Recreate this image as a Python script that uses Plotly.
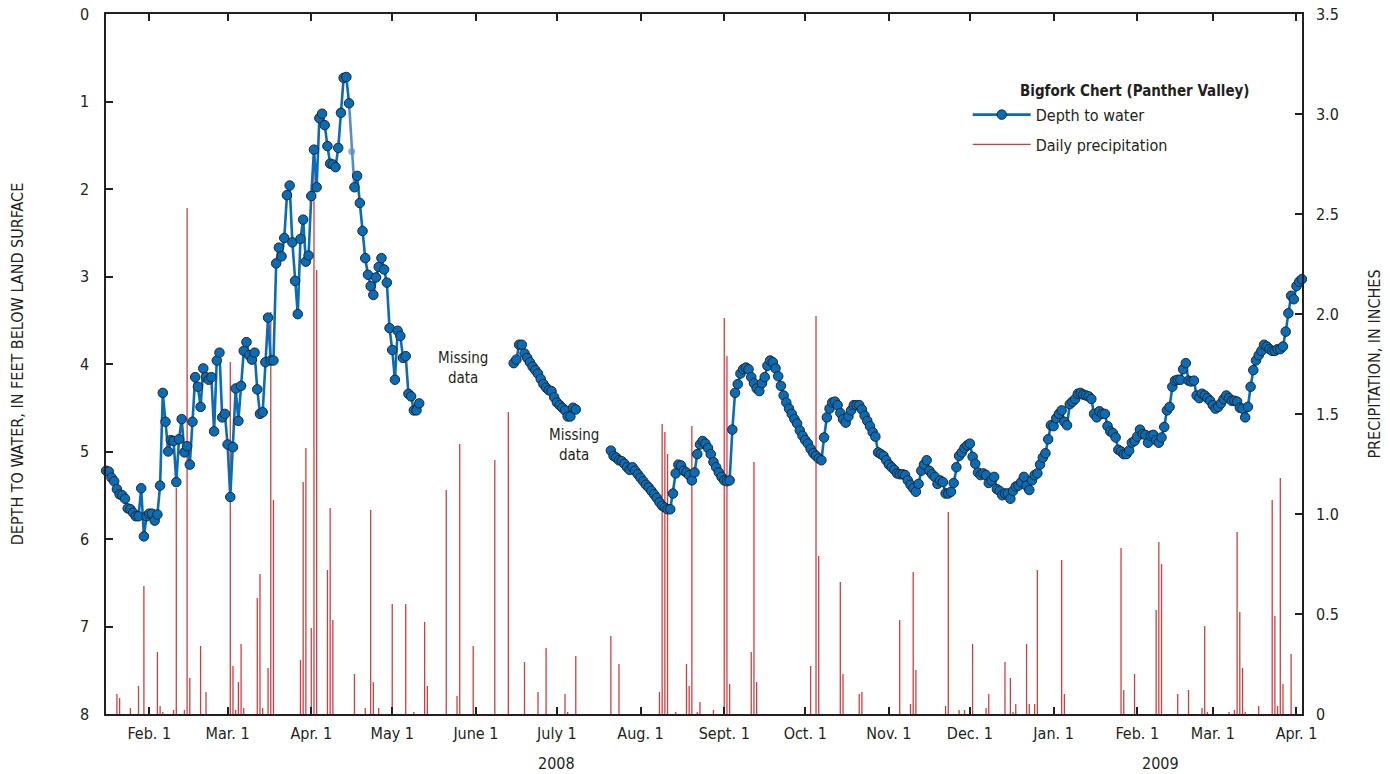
import pandas as pd
import plotly.graph_objects as go

# ---- Depth to water (feet below land surface), daily, three recorded segments ----
seg1_start = "2008-01-16"
seg1_depth = [
    5.22, 5.23, 5.30, 5.34, 5.43, 5.49, 5.50, 5.54, 5.65, 5.66,
    5.70, 5.74, 5.74, 5.42, 5.97, 5.74, 5.71, 5.71, 5.79, 5.72,
    5.39, 4.33, 4.66, 5.00, 4.87, 4.88, 5.35, 4.86, 4.63, 5.01,
    4.94, 5.15, 4.66, 4.15, 4.26, 4.49, 4.05, 4.15, 4.18, 4.15,
    4.77, 3.96, 3.87, 4.61, 4.57, 4.92, 5.52, 4.95, 4.28, 4.65,
    4.25, 3.85, 3.75, 3.90, 3.95, 3.87, 4.29, 4.57, 4.55, 3.98,
    3.47, 3.96, 3.96,
    2.85, 2.67, 2.77, 2.56, 2.07, 1.96, 2.61, 3.05, 3.43, 2.57,
    2.35, 2.83, 2.76, 2.08, 1.55, 1.98, 1.19, 1.14, 1.27, 1.51,
    1.71, 1.72, 1.75, 1.53, 1.13, 0.73, 0.72, 1.02, 1.57, 1.98,
    1.85, 2.16, 2.48, 2.79, 2.98, 3.11, 3.21, 3.01, 2.89, 2.79,
    2.92, 3.07, 3.59, 3.84, 4.18, 3.62, 3.68, 3.93, 3.91, 4.34,
    4.37, 4.53, 4.53, 4.45,
]
seg2_start = "2008-06-15"
seg2_depth = [
    3.99, 3.95, 3.78, 3.78, 3.88, 3.93, 3.98, 4.03, 4.07, 4.11,
    4.17, 4.23, 4.27, 4.30, 4.31, 4.38, 4.44, 4.47, 4.50, 4.53,
    4.60, 4.60, 4.50, 4.52,
]
seg3_start = "2008-07-21"
seg3_depth = [
    4.99, 5.05, 5.07, 5.10, 5.11, 5.14, 5.18, 5.21, 5.18, 5.22,
    5.26, 5.30, 5.34, 5.38, 5.41, 5.45, 5.49, 5.53, 5.58, 5.62,
    5.64, 5.66, 5.66, 5.48, 5.25, 5.15, 5.16, 5.22, 5.24,
    5.27, 5.33, 5.24, 5.03, 4.92, 4.88, 4.91, 4.96, 5.03, 5.12,
    5.18, 5.24, 5.29, 5.33, 5.34, 5.33, 4.75, 4.33, 4.23, 4.11,
    4.06, 4.04, 4.06, 4.15, 4.22, 4.28, 4.31, 4.22, 4.15, 4.02,
    3.96, 3.98, 4.05, 4.14, 4.25, 4.36, 4.44, 4.51, 4.57, 4.63,
    4.68, 4.76, 4.82, 4.87, 4.91, 4.97, 5.02, 5.05, 5.08, 5.10,
    4.84, 4.61, 4.51, 4.44, 4.43, 4.47, 4.56, 4.63, 4.67, 4.60,
    4.53, 4.47, 4.47, 4.47, 4.52, 4.59, 4.65, 4.71, 4.78, 4.83,
    5.01, 5.03, 5.05, 5.10, 5.15, 5.18, 5.21, 5.25, 5.26, 5.26,
    5.27, 5.33, 5.38, 5.42, 5.46, 5.37, 5.22, 5.15, 5.10, 5.22,
    5.26, 5.29, 5.37, 5.33, 5.35, 5.48, 5.48, 5.46, 5.36, 5.18,
    5.05, 5.01, 4.96, 4.93, 4.91, 5.06, 5.14, 5.24, 5.27, 5.25,
    5.27, 5.36, 5.33, 5.29, 5.43, 5.45, 5.50, 5.48, 5.48, 5.54,
    5.45, 5.40, 5.39, 5.35, 5.29, 5.39, 5.44, 5.33, 5.27, 5.25,
    5.15, 5.07, 5.02, 4.86, 4.70, 4.71, 4.62, 4.57, 4.53, 4.66,
    4.70, 4.46, 4.43, 4.40, 4.34, 4.33, 4.35, 4.36,
    4.37, 4.40, 4.57, 4.61, 4.54, 4.57, 4.57, 4.71, 4.77, 4.79,
    4.84, 4.98, 5.00, 5.03, 5.03, 4.99, 4.90, 4.88, 4.83, 4.75,
    4.80, 4.81, 4.90, 4.82, 4.81, 4.87, 4.90, 4.84, 4.72, 4.53,
    4.49, 4.26, 4.19, 4.18, 4.18, 4.06, 3.99, 4.19, 4.20, 4.19,
    4.36, 4.39, 4.34, 4.36, 4.39, 4.42, 4.47, 4.51, 4.49, 4.45,
    4.40, 4.36, 4.39, 4.42, 4.42, 4.43, 4.50, 4.51, 4.61, 4.49,
    4.26, 4.07, 3.96, 3.90, 3.85, 3.78, 3.80, 3.83, 3.85, 3.85,
    3.83, 3.83, 3.80, 3.63, 3.42, 3.22, 3.26, 3.11, 3.06, 3.03,
]
# Reading that was estimated rather than measured
estimated_dates = ["2008-04-16"]

# ---- Daily precipitation (inches) ----
precip_dates = [
    "2008-01-20", "2008-01-21", "2008-01-25", "2008-01-28", "2008-01-30",
    "2008-02-04", "2008-02-05", "2008-02-06", "2008-02-10", "2008-02-11",
    "2008-02-14", "2008-02-15", "2008-02-16", "2008-02-20", "2008-02-22",
    "2008-03-02", "2008-03-03", "2008-03-04", "2008-03-05", "2008-03-06", "2008-03-07",
    "2008-03-12", "2008-03-13", "2008-03-14", "2008-03-16", "2008-03-17", "2008-03-18",
    "2008-03-28", "2008-03-29", "2008-03-30", "2008-04-01", "2008-04-02", "2008-04-03",
    "2008-04-07", "2008-04-08", "2008-04-09", "2008-04-17", "2008-04-21", "2008-04-23",
    "2008-04-24", "2008-04-26",
    "2008-05-01", "2008-05-06", "2008-05-09", "2008-05-13", "2008-05-14", "2008-05-21",
    "2008-05-25", "2008-05-26", "2008-05-31",
    "2008-06-08", "2008-06-13", "2008-06-19", "2008-06-24", "2008-06-27",
    "2008-07-04", "2008-07-05", "2008-07-08", "2008-07-21", "2008-07-24",
    "2008-08-08", "2008-08-09", "2008-08-10", "2008-08-11", "2008-08-14", "2008-08-18",
    "2008-08-19", "2008-08-20", "2008-08-22", "2008-08-23", "2008-08-28",
    "2008-09-01", "2008-09-02", "2008-09-03", "2008-09-11", "2008-09-12", "2008-09-13",
    "2008-10-03", "2008-10-05", "2008-10-06", "2008-10-14", "2008-10-15", "2008-10-21", "2008-10-22",
    "2008-11-05", "2008-11-09", "2008-11-10", "2008-11-11", "2008-11-22", "2008-11-23",
    "2008-11-27", "2008-11-29",
    "2008-12-02", "2008-12-07", "2008-12-08", "2008-12-14", "2008-12-16", "2008-12-17",
    "2008-12-18", "2008-12-22", "2008-12-23", "2008-12-25", "2008-12-26",
    "2009-01-04", "2009-01-05", "2009-01-26", "2009-01-27", "2009-01-31",
    "2009-02-08", "2009-02-09", "2009-02-10", "2009-02-16", "2009-02-20", "2009-02-25",
    "2009-02-26", "2009-02-27",
    "2009-03-07", "2009-03-09", "2009-03-10", "2009-03-11", "2009-03-12", "2009-03-13", "2009-03-18",
    "2009-03-23", "2009-03-24", "2009-03-25", "2009-03-26", "2009-03-27", "2009-03-30",
]
precip_inches = [
    0.10, 0.08, 0.03, 0.14, 0.64,
    0.31, 0.04, 0.01, 0.02, 1.13,
    0.02, 2.53, 0.18, 0.34, 0.11,
    1.76, 0.24, 0.02, 0.16, 0.35, 0.03,
    0.58, 0.70, 0.03, 0.23, 2.01, 1.07,
    0.27, 1.16, 1.33, 0.43, 2.84, 2.22,
    0.72, 1.03, 0.47, 0.20, 0.03, 1.02,
    0.16, 0.03,
    0.55, 0.55, 0.01, 0.46, 0.14, 1.12,
    0.09, 1.35, 0.34,
    1.27, 1.51, 0.26, 0.11, 0.33,
    0.10, 0.01, 0.29, 0.39, 0.25,
    0.11, 1.45, 1.41, 1.30, 0.01, 0.25,
    0.14, 1.44, 0.01, 0.06, 0.02,
    1.98, 1.79, 0.15, 0.31, 1.26, 0.16,
    0.24, 1.99, 0.79, 0.66, 0.20, 0.10, 0.11,
    0.47, 0.05, 0.71, 0.22, 0.04, 1.01,
    0.02, 0.02,
    0.35, 0.03, 0.10, 0.26, 0.18, 0.01,
    0.05, 0.35, 0.05, 0.05, 0.72,
    0.77, 0.10, 0.83, 0.12, 0.20,
    0.52, 0.86, 0.75, 0.10, 0.12, 0.03,
    0.44, 0.01,
    0.01, 0.02, 0.91, 0.51, 0.23, 0.01, 0.04,
    1.07, 0.49, 0.04, 1.18, 0.15, 0.30,
]
assert len(precip_dates) == len(precip_inches)

# ---- Axis ticks ----
month_ticks = pd.date_range("2008-02-01", "2009-04-01", freq="MS")
month_labels = ["Feb. 1", "Mar. 1", "Apr. 1", "May 1", "June 1", "July 1", "Aug. 1",
                "Sept. 1", "Oct. 1", "Nov. 1", "Dec. 1", "Jan. 1", "Feb. 1", "Mar. 1", "Apr. 1"]
depth_ticks = [0, 1, 2, 3, 4, 5, 6, 7, 8]
precip_ticks = [0, 0.5, 1.0, 1.5, 2.0, 2.5, 3.0, 3.5]
precip_labels = ["0", "0.5", "1.0", "1.5", "2.0", "2.5", "3.0", "3.5"]

FONT = "DejaVu Sans Condensed, Liberation Sans Narrow, Arial Narrow, sans-serif"
INK = "#231f20"
BLUE = "#0a6cb5"
RED = "#cf3f41"
FS = 16

# ---- Build the depth series with breaks between segments ----
est = set(pd.to_datetime(estimated_dates))
dx, dy = [], []
est_x, est_y = [], []
for start, vals in [(seg1_start, seg1_depth), (seg2_start, seg2_depth), (seg3_start, seg3_depth)]:
    days = pd.date_range(start, periods=len(vals), freq="D")
    for i, (d, v) in enumerate(zip(days, vals)):
        if d in est:
            dx.append(d); dy.append(None)
            est_x += [days[i - 1], d, days[i + 1]]
            est_y += [vals[i - 1], v, vals[i + 1]]
        else:
            dx.append(d); dy.append(v)
    dx.append(None); dy.append(None)

# ---- Precipitation as vertical sticks from zero ----
px_, py_ = [], []
for d, v in zip(pd.to_datetime(precip_dates), precip_inches):
    px_ += [d, d, None]
    py_ += [0, v, None]

fig = go.Figure()
fig.add_trace(go.Scatter(
    x=px_, y=py_, mode="lines", name="Daily precipitation",
    line=dict(color=RED, width=1.3), yaxis="y", legendrank=2, legendgroup="b",
))
fig.add_trace(go.Scatter(
    x=est_x, y=est_y, mode="lines+markers", showlegend=False,
    line=dict(color="#5a8bc8", width=2.6),
    marker=dict(size=[0, 7, 0], color="#5a8bc8", line=dict(width=0)),
    yaxis="y2", cliponaxis=False,
))
fig.add_trace(go.Scatter(
    x=dx, y=dy, mode="lines+markers", name="Depth to water",
    line=dict(color=BLUE, width=2.6),
    marker=dict(size=9.5, color=BLUE, line=dict(color="#1b2733", width=1)),
    yaxis="y2", cliponaxis=False, connectgaps=False, legendrank=1, legendgroup="a",
))

axis_common = dict(
    showline=True, linecolor=INK, linewidth=1.5, ticks="inside", ticklen=7,
    tickwidth=1.5, tickcolor=INK, showgrid=False, zeroline=False, automargin=False,
    tickfont=dict(family=FONT, size=FS, color=INK),
)

fig.update_layout(
    width=1390, height=774,
    margin=dict(l=106, r=88, t=14, b=60),
    paper_bgcolor="white", plot_bgcolor="white",
    font=dict(family=FONT, size=FS, color=INK),
    xaxis=dict(
        type="date", range=["2008-01-15 23:00", "2009-04-03 01:00"],
        tickvals=month_ticks, ticktext=month_labels, mirror="ticks",
        ticklabelstandoff=4, **axis_common,
    ),
    yaxis=dict(
        range=[0, 3.5], side="right", tickvals=precip_ticks, ticktext=precip_labels,
        title=dict(text="PRECIPITATION, IN INCHES", standoff=31,
                   font=dict(family=FONT, size=FS, color=INK)),
        ticklabelstandoff=9, **axis_common,
    ),
    yaxis2=dict(
        range=[8, 0], side="left", overlaying="y", tickvals=depth_ticks,
        title=dict(text="DEPTH TO WATER, IN FEET BELOW LAND SURFACE", standoff=52,
                   font=dict(family=FONT, size=FS, color=INK)),
        ticklabelstandoff=12, **axis_common,
    ),
    showlegend=True,
    legend=dict(
        x=0.7205, y=0.8804, xanchor="left", yanchor="top",
        bgcolor="rgba(0,0,0,0)", font=dict(family=FONT, size=FS, color=INK),
        traceorder="grouped", tracegroupgap=6, itemwidth=58,
    ),
    annotations=[
        dict(text="<b>Bigfork Chert (Panther Valley)</b>", xref="paper", yref="paper",
             x=0.7625, y=0.8896, xanchor="left", yanchor="middle", showarrow=False,
             font=dict(family=FONT, size=15, color=INK)),
        dict(text="Missing<br>data", xref="x", yref="y2", x="2008-05-27 04:00", y=4.05,
             showarrow=False, font=dict(family=FONT, size=15, color=INK)),
        dict(text="Missing<br>data", xref="x", yref="y2", x="2008-07-07 08:00", y=4.92,
             showarrow=False, font=dict(family=FONT, size=15, color=INK)),
        dict(text="2008", xref="x", yref="paper", x="2008-07-01", y=-0.071,
             yanchor="middle", showarrow=False, font=dict(family=FONT, size=FS, color=INK)),
        dict(text="2009", xref="x", yref="paper", x="2009-02-09 16:00", y=-0.071,
             yanchor="middle", showarrow=False, font=dict(family=FONT, size=FS, color=INK)),
    ],
)

fig.write_html("out.html")
